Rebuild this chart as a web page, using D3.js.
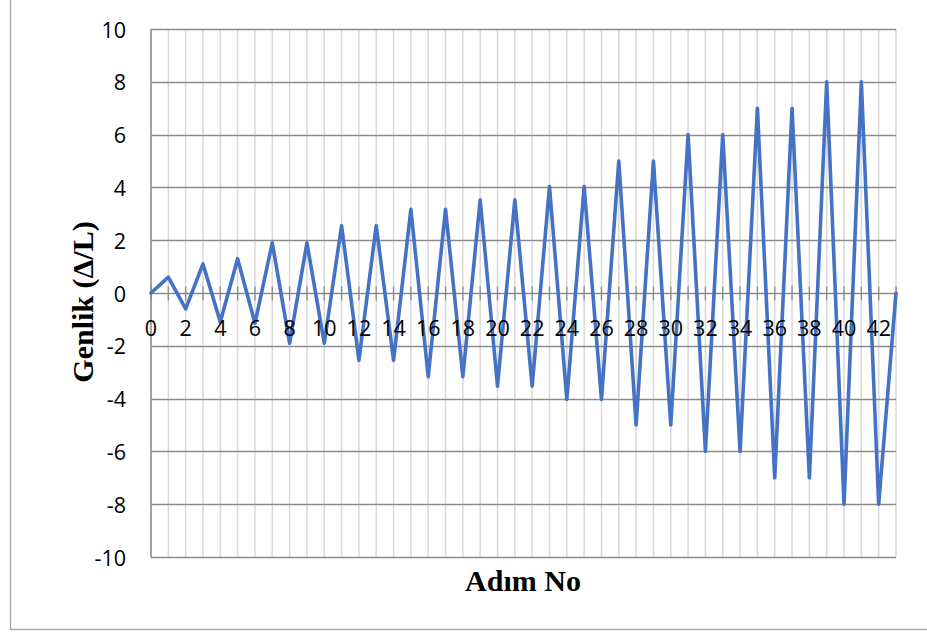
<!DOCTYPE html>
<html>
<head>
<meta charset="utf-8">
<script src="https://cdn.jsdelivr.net/npm/d3@7"></script>
<style>
  html, body { margin: 0; padding: 0; background: #fff; }
  svg { display: block; }
</style>
</head>
<body>
<svg id="chart" width="927" height="634"></svg>
<script>
// ---- data ----
const steps = d3.range(0, 44);              // Adım No 0..43
const amplitudes = [0, 0.6, -0.6, 1.1, -1.1, 1.3, -1.15, 1.9, -1.9, 1.9, -1.9,
  2.55, -2.55, 2.55, -2.55, 3.17, -3.17, 3.17, -3.17, 3.53, -3.53, 3.53, -3.53,
  4.03, -4.03, 4.03, -4.03, 5, -5, 5, -5, 6, -6, 6, -6, 7, -7, 7, -7, 8, -8, 8, -8, 0];
const yTicks = [-10, -8, -6, -4, -2, 0, 2, 4, 6, 8, 10];
const xTickLabels = d3.range(0, 43, 2);
const xTitle = "Adım No";
const yTitle = "Genlik (Δ/L)";

// ---- layout ----
const svg = d3.select("#chart");
const plot = { left: 151, right: 896, top: 29, bottom: 557 };
const x = d3.scaleLinear().domain([0, 43]).range([plot.left, plot.right]);
const y = d3.scaleLinear().domain([-10, 10]).range([plot.bottom, plot.top]);

// outer frame
svg.append("path")
  .attr("d", `M10.5,-2 L10.5,629.5 L930,629.5`)
  .attr("fill", "none").attr("stroke", "#a6a6a6").attr("stroke-width", 1.3);

// vertical (minor) gridlines
svg.append("g").selectAll("line").data(steps).join("line")
  .attr("x1", d => x(d)).attr("x2", d => x(d))
  .attr("y1", plot.top).attr("y2", plot.bottom)
  .attr("stroke", "#d9d9d9").attr("stroke-width", 1.5);

// horizontal major gridlines
svg.append("g").selectAll("line").data(yTicks).join("line")
  .attr("x1", plot.left).attr("x2", plot.right)
  .attr("y1", d => Math.round(y(d)) + 0.5).attr("y2", d => Math.round(y(d)) + 0.5)
  .attr("stroke", "#8c8c8c").attr("stroke-width", 1.3);

// left axis line
svg.append("line")
  .attr("x1", plot.left).attr("x2", plot.left)
  .attr("y1", plot.top).attr("y2", plot.bottom)
  .attr("stroke", "#8c8c8c").attr("stroke-width", 1.5);

// x axis at zero with tick marks crossing
const xAxisG = svg.append("g").attr("transform", `translate(0,${Math.round(y(0)) + 0.5})`);
xAxisG.selectAll("line.tk").data(steps).join("line")
  .attr("class", "tk")
  .attr("x1", d => x(d)).attr("x2", d => x(d))
  .attr("y1", -7).attr("y2", 7)
  .attr("stroke", "#8c8c8c").attr("stroke-width", 1.3);

// data line
const line = d3.line().x((d, i) => x(steps[i])).y(d => y(d));
svg.append("path")
  .datum(amplitudes)
  .attr("d", line)
  .attr("fill", "none")
  .attr("stroke", "#4472C4")
  .attr("stroke-width", 3.6)
  .attr("stroke-linejoin", "round")
  .attr("stroke-linecap", "round");

// x tick labels
const tickFont = "'Open Sans', 'Liberation Sans', sans-serif";
svg.append("g").selectAll("text").data(xTickLabels).join("text")
  .attr("x", d => x(d)).attr("y", 327)
  .attr("text-anchor", "middle").attr("dominant-baseline", "central")
  .attr("font-family", tickFont).attr("font-size", 21.5).attr("fill", "#000")
  .text(d => d);

// y tick labels
svg.append("g").selectAll("text").data(yTicks).join("text")
  .attr("x", 126).attr("y", d => y(d))
  .attr("text-anchor", "end").attr("dominant-baseline", "central")
  .attr("font-family", tickFont).attr("font-size", 21.5).attr("fill", "#000")
  .text(d => d);

// axis titles
svg.append("text")
  .attr("x", 523).attr("y", 591)
  .attr("text-anchor", "middle")
  .attr("font-family", "'Liberation Serif', 'Times New Roman', serif")
  .attr("font-weight", "bold").attr("font-size", 30).attr("fill", "#000")
  .text(xTitle);

svg.append("text")
  .attr("transform", `translate(93,302) rotate(-90)`)
  .attr("text-anchor", "middle")
  .attr("font-family", "'Liberation Serif', 'Times New Roman', serif")
  .attr("font-weight", "bold").attr("font-size", 30).attr("fill", "#000")
  .text(yTitle);
</script>
</body>
</html>
